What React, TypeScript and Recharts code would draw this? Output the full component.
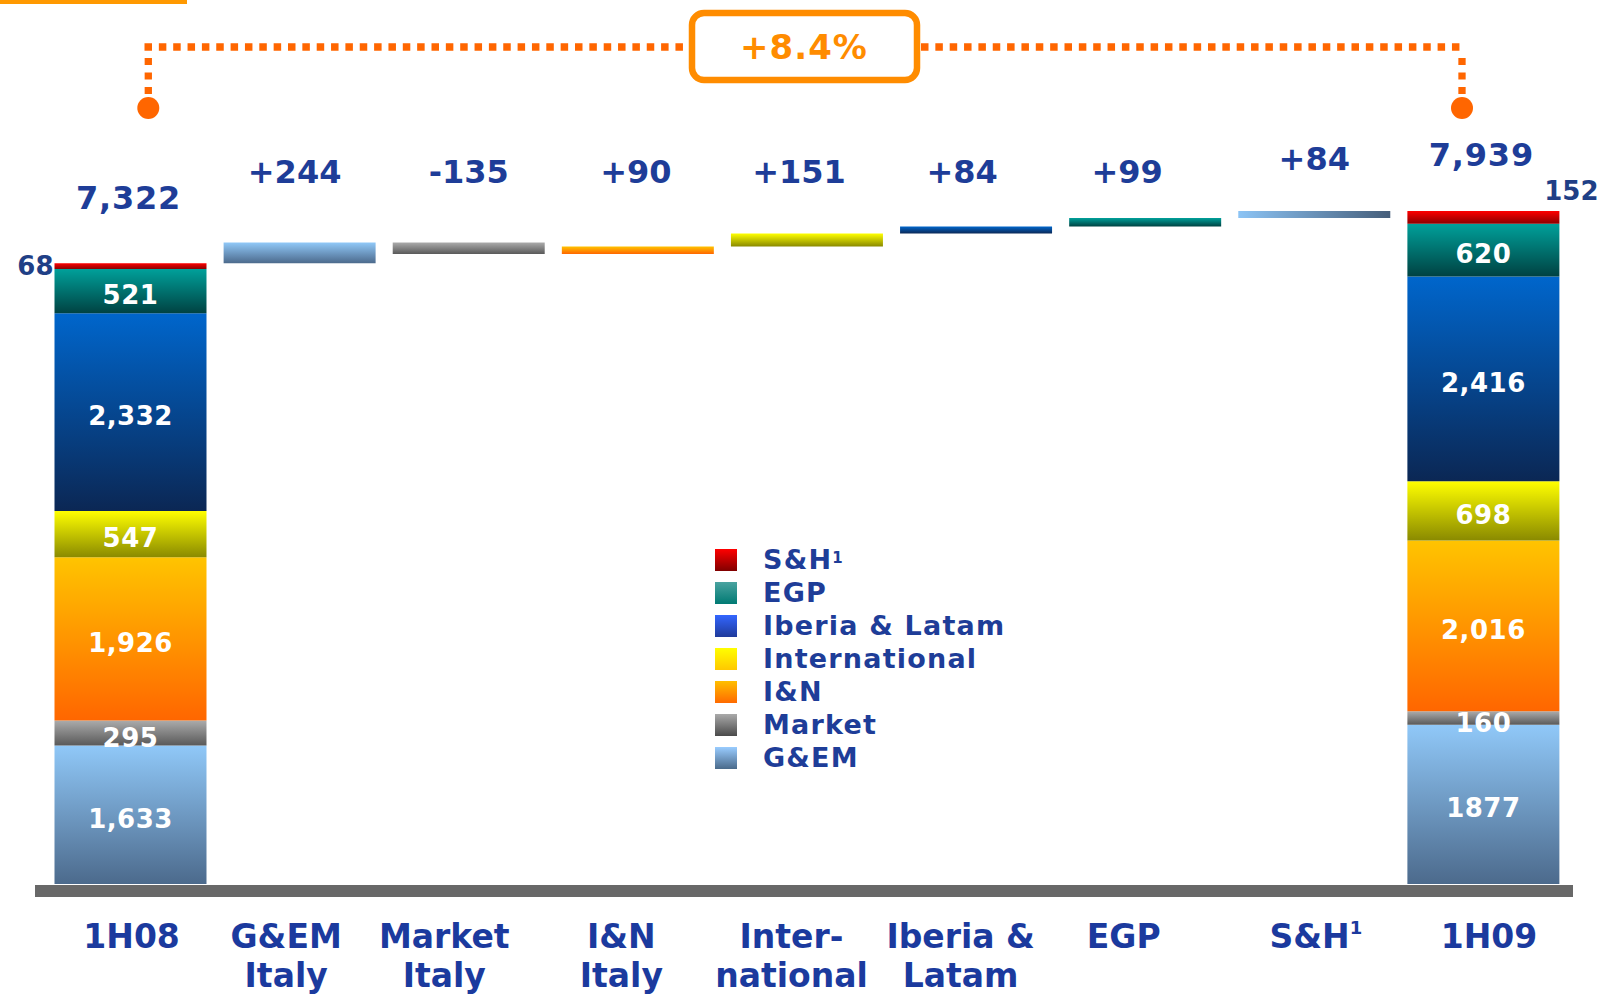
import React from 'react';
import { BarChart, Bar, XAxis, YAxis, LabelList, Cell } from 'recharts';

// categories along the x axis
const categories = ['1H08', 'G&EM Italy', 'Market Italy', 'I&N Italy', 'International', 'Iberia & Latam', 'EGP', 'S&H', '1H09'];
const tickLine1 = ['1H08', 'G&EM', 'Market', 'I&N', 'Inter-', 'Iberia &', 'EGP', 'S&H', '1H09'];
const tickLine2 = ['', 'Italy', 'Italy', 'Italy', 'national', 'Latam', '', '', ''];

// business segments, bottom of the stack first
const segmentKeys = ['gem', 'market', 'inn', 'intl', 'iberia', 'egp', 'sh'];
const segmentNames = ['G&EM', 'Market', 'I&N', 'International', 'Iberia & Latam', 'EGP', 'S&H'];

const start1H08 = [1633, 295, 1926, 547, 2332, 521, 68];
const end1H09 = [1877, 160, 2016, 698, 2416, 620, 152];
const startLabels = ['1,633', '295', '1,926', '547', '2,332', '521', '68'];
const endLabels = ['1877', '160', '2,016', '698', '2,416', '620', '152'];
const deltas = [244, -135, 90, 151, 84, 99, 84];
const totals = [7322, 7939];

// waterfall table: invisible base + one visible piece per row
const data: any[] = categories.map((name) => {
  const row: any = { name, base: 0 };
  segmentKeys.forEach((k) => (row[k] = 0));
  return row;
});
segmentKeys.forEach((k, s) => {
  data[0][k] = start1H08[s];
  data[data.length - 1][k] = end1H09[s];
});
let running = totals[0];
deltas.forEach((d, j) => {
  const next = running + d;
  data[j + 1].base = Math.min(running, next);
  data[j + 1][segmentKeys[j]] = Math.abs(d);
  running = next;
});

const gradients: Record<string, [string, string]> = {
  gem: ['#90c8f8', '#4c6a8c'],
  market: ['#ababab', '#595959'],
  inn: ['#ffc400', '#ff6600'],
  intl: ['#ffff00', '#8a8a00'],
  iberia: ['#0066cc', '#0b2754'],
  egp: ['#00a09a', '#004242'],
  sh: ['#ff0000', '#8a0000'],
};
const legendSwatch: Record<string, string> = {
  gem: 'linear-gradient(#99ccff, #4a6a8a)',
  market: 'linear-gradient(#aaaaaa, #4a4a4a)',
  inn: 'linear-gradient(#ffbf00, #ff6a00)',
  intl: 'linear-gradient(#ffff00, #ffc800)',
  iberia: 'linear-gradient(#3366ff, #1f3a9a)',
  egp: 'linear-gradient(#4aa3a0, #007a73)',
  sh: 'linear-gradient(#ff0000, #800000)',
};

const navy = '#1e3d98';
const fontV = "'DejaVu Sans', Verdana, sans-serif";
// small horizontal nudges of the captions, as in the slide
const labelShift = [1.5, -13, -24, -16, -15, -15, -21, 2, 6];
const deltaShift = [-5, 0, -2, -8, -14, -18, 0];

function makeLabel(s: number) {
  return (props: any) => {
    const vb = props.viewBox || props;
    const x = Number(vb.x);
    const y = Number(vb.y);
    const w = Number(vb.width);
    const h = Number(vb.height);
    const i = categories.indexOf(props.value);
    if (i < 0) return null;
    const cx = x + w / 2;
    const last = categories.length - 1;
    if (i === 0 || i === last) {
      const texts = i === 0 ? startLabels : endLabels;
      if (s < segmentKeys.length - 1) {
        return (
          <text x={cx} y={y + h / 2 + (s === 1 ? 5 : 4)} textAnchor="middle" dominantBaseline="central"
            fill="#fff" fontFamily={fontV} fontWeight="bold" fontSize={26} letterSpacing={0.5}>
            {texts[s]}
          </text>
        );
      }
      const total = i === 0 ? totals[0] : totals[1];
      return (
        <g>
          {i === 0 ? (
            <text x={x - 1} y={y + h / 2} textAnchor="end" dominantBaseline="central"
              fill="#1f3f86" fontFamily={fontV} fontWeight="bold" fontSize={26}>
              {texts[s]}
            </text>
          ) : (
            <text x={x + w + 12} y={y - 20} textAnchor="middle" dominantBaseline="central"
              fill="#1f3f86" fontFamily={fontV} fontWeight="bold" fontSize={26}>
              {texts[s]}
            </text>
          )}
          <text x={cx - 2} y={y - (i === 0 ? 65 : 56)} textAnchor="middle" dominantBaseline="central"
            fill={navy} fontFamily={fontV} fontWeight="bold" fontSize={32} letterSpacing={0.8}>
            {total.toLocaleString('en-US')}
          </text>
        </g>
      );
    }
    if (i === s + 1) {
      const d = deltas[s];
      return (
        <text x={cx + deltaShift[s]} y={s === 6 ? 159 : 172} textAnchor="middle" dominantBaseline="central"
          fill={navy} fontFamily={fontV} fontWeight="bold" fontSize={32}>
          {(d > 0 ? '+' : '-') + Math.abs(d)}
        </text>
      );
    }
    return null;
  };
}

const CategoryTick = (props: any) => {
  const { x, y, payload } = props;
  const i = categories.indexOf(payload.value);
  const tx = x + labelShift[i];
  return (
    <g>
      <text x={tx} y={y + 64} textAnchor="middle" fill="#1b3a9e" fontFamily={fontV} fontWeight="bold" fontSize={33}>
        {tickLine1[i]}
        {i === 7 && <tspan fontSize={18} dy={-14}>1</tspan>}
      </text>
      {tickLine2[i] && (
        <text x={tx} y={y + 103} textAnchor="middle" fill="#1b3a9e" fontFamily={fontV} fontWeight="bold" fontSize={33}>
          {tickLine2[i]}
        </text>
      )}
    </g>
  );
};

export default function App() {
  const legendOrder = [6, 5, 4, 3, 2, 1, 0];
  return (
    <div style={{ position: 'absolute', left: 0, top: 0, width: 1605, height: 995, background: '#fff' }}>
      <BarChart width={1605} height={995} data={data} margin={{ top: 121, right: 37.5, left: 45.5, bottom: 0 }}>
        <defs>
          {segmentKeys.map((k) => (
            <linearGradient key={k} id={'g_' + k} x1="0" y1="0" x2="0" y2="1">
              <stop offset="0%" stopColor={gradients[k][0]} />
              <stop offset="100%" stopColor={gradients[k][1]} />
            </linearGradient>
          ))}
          <linearGradient id="g_shDelta" x1="0" y1="0" x2="1" y2="0">
            <stop offset="0%" stopColor="#8cc4f5" />
            <stop offset="100%" stopColor="#465e7a" />
          </linearGradient>
        </defs>
        <XAxis dataKey="name" height={111} axisLine={false} tickLine={false} tickSize={0} tickMargin={0}
          interval={0} tick={<CategoryTick />} />
        <YAxis hide domain={[0, 9000]} />
        <Bar dataKey="base" stackId="w" fill="transparent" barSize={152} isAnimationActive={false} />
        {segmentKeys.map((k, s) => (
          <Bar key={k} dataKey={k} stackId="w" fill={`url(#g_${k})`} barSize={152} isAnimationActive={false}>
            {k === 'sh' &&
              data.map((_, i) => (
                <Cell key={i} fill={i === 7 ? 'url(#g_shDelta)' : 'url(#g_sh)'} />
              ))}
            <LabelList dataKey="name" content={makeLabel(s)} />
          </Bar>
        ))}
      </BarChart>

      <svg width={1605} height={995} style={{ position: 'absolute', left: 0, top: 0, pointerEvents: 'none' }}>
        <rect x={0} y={0} width={187} height={4} fill="#ff9900" />
        <rect x={35} y={885} width={1538} height={12} fill="#686868" />
        <line x1={144.5} y1={47} x2={690} y2={47} stroke="#ff6600" strokeWidth={7.5} strokeDasharray="7.5 6.85" />
        <line x1={921} y1={47} x2={1466} y2={47} stroke="#ff6600" strokeWidth={7.5} strokeDasharray="7.5 6.85" />
        <line x1={148.3} y1={58} x2={148.3} y2={96} stroke="#ff6600" strokeWidth={7.3} strokeDasharray="7 7.5" />
        <line x1={1462} y1={58} x2={1462} y2={96} stroke="#ff6600" strokeWidth={7.3} strokeDasharray="7 7.5" />
        <circle cx={148.3} cy={108} r={11} fill="#ff6600" />
        <circle cx={1462} cy={108} r={11} fill="#ff6600" />
        <rect x={692} y={13} width={225} height={67} rx={12} fill="#fff" stroke="#ff8c00" strokeWidth={6.5} />
        <text x={804} y={47} textAnchor="middle" dominantBaseline="central" fill="#ff8c00"
          fontFamily={fontV} fontWeight="bold" fontSize={34} letterSpacing={1}>
          +8.4%
        </text>
      </svg>

      <div style={{ position: 'absolute', left: 715, top: 543, fontFamily: fontV }}>
        {legendOrder.map((s) => (
          <div key={s} style={{ height: 33, display: 'flex', alignItems: 'center' }}>
            <div style={{ width: 22, height: 22, background: legendSwatch[segmentKeys[s]] }} />
            <div style={{ marginLeft: 26, fontSize: 27, fontWeight: 'bold', letterSpacing: 1.2, color: navy, lineHeight: '30px' }}>
              {segmentNames[s]}
              {s === 6 && <sup style={{ fontSize: 15, verticalAlign: 'top', position: 'relative', top: -2 }}>1</sup>}
            </div>
          </div>
        ))}
      </div>
    </div>
  );
}
